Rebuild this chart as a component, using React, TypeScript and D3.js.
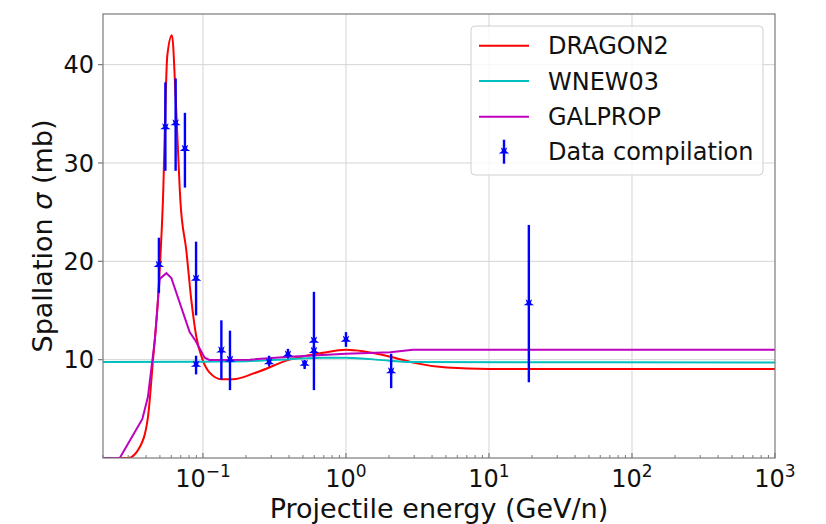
// @ts-nocheck
import { useEffect, useRef } from "react";
import * as d3 from "d3";

// model curves (energy in GeV/n, sigma in mb)
const dragonE = [0.02, 0.0299, 0.0361, 0.0412, 0.0447, 0.0484, 0.0525, 0.0563, 0.0607, 0.0644, 0.0669, 0.0695, 0.0765, 0.083, 0.0899, 0.1, 0.111, 0.135, 0.162, 0.236, 0.404, 0.69, 1.0, 2.04, 2.94, 5.06, 10, 1000];
const dragonSigma = [0, 0, 1.1, 4.1, 9.9, 16, 26.2, 40.9, 43.0, 36.7, 31.3, 26.2, 21.1, 16.0, 12.3, 9.9, 8.7, 8.0, 8.0, 8.7, 10.0, 10.7, 11.0, 10.3, 9.7, 9.2, 9.05, 9.05];

const wnewE = [0.02, 0.1, 0.2, 0.4, 0.7, 1.0, 2.0, 3.0, 1000];
const wnewSigma = [9.75, 9.8, 9.85, 10.05, 10.2, 10.2, 9.9, 9.75, 9.72];

const galpropE = [0.02, 0.0262, 0.0377, 0.0412, 0.046, 0.0498, 0.0555, 0.0601, 0.0807, 0.0889, 0.1027, 0.111, 0.212, 0.404, 1.0, 2.04, 2.94, 1000];
const galpropSigma = [0, 0, 3.97, 6.2, 11.9, 18.2, 18.8, 18.3, 12.8, 11.9, 10.2, 9.97, 10.0, 10.3, 10.6, 10.75, 11.0, 11.0];

// data compilation
const dataE = [0.0492, 0.0546, 0.0644, 0.0748, 0.0895, 0.0895, 0.1345, 0.1545, 0.29, 0.393, 0.514, 0.597, 0.597, 1.0, 2.07, 19.0];
const dataSigma = [19.6, 33.6, 34.0, 31.4, 18.2, 9.45, 10.9, 9.97, 9.7, 10.5, 9.55, 11.9, 10.85, 12.0, 8.78, 15.7];
const dataLow = [16.8, 29.2, 29.2, 27.5, 14.5, 8.5, 8.0, 6.9, 9.4, 10.2, 9.05, 6.9, 10.3, 11.3, 7.1, 7.7];
const dataHigh = [22.4, 38.2, 38.6, 35.1, 22.0, 10.4, 14.0, 12.95, 10.4, 11.1, 9.97, 16.9, 11.4, 12.8, 10.6, 23.7];

const yTicks = [10, 20, 30, 40];
const xTicks = [0.1, 1, 10, 100, 1000];
const xTickExp = ["\u22121", "0", "1", "2", "3"];

const series = [
  { name: "DRAGON2", color: "#ff0000", e: dragonE, s: dragonSigma, curve: d3.curveMonotoneX },
  { name: "WNEW03", color: "#00bfbf", e: wnewE, s: wnewSigma, curve: d3.curveMonotoneX },
  { name: "GALPROP", color: "#bf00bf", e: galpropE, s: galpropSigma, curve: d3.curveLinear },
];

const App = () => {
  const ref = useRef(null);

  useEffect(() => {
    const width = 826;
    const height = 524;
    const m = { top: 14, right: 51, bottom: 66, left: 103 };
    const font = "DejaVu Sans, sans-serif";

    d3.select(ref.current).selectAll("*").remove();
    const svg = d3
      .select(ref.current)
      .append("svg")
      .attr("width", width)
      .attr("height", height)
      .style("position", "absolute")
      .style("left", 0)
      .style("top", 0)
      .style("background", "#fff");

    const x = d3.scaleLog().domain([0.02, 1000]).range([m.left, width - m.right]);
    const y = d3.scaleLinear().domain([0, 45.15]).range([height - m.bottom, m.top]);
    const x0 = m.left, x1 = width - m.right, y0 = height - m.bottom, y1 = m.top;

    const defs = svg.append("defs");
    defs.append("clipPath").attr("id", "plotclip")
      .append("rect").attr("x", x0).attr("y", y1).attr("width", x1 - x0).attr("height", y0 - y1);

    // grid
    const grid = svg.append("g").attr("stroke", "#d4d4d4").attr("stroke-width", 1);
    xTicks.slice(0, -1).forEach((t) => {
      grid.append("line").attr("x1", x(t)).attr("x2", x(t)).attr("y1", y0).attr("y2", y1);
    });
    yTicks.forEach((t) => {
      grid.append("line").attr("x1", x0).attr("x2", x1).attr("y1", y(t)).attr("y2", y(t));
    });

    // curves
    const plot = svg.append("g").attr("clip-path", "url(#plotclip)");
    series.forEach((sr) => {
      const line = d3
        .line()
        .x((d, i) => x(sr.e[i]))
        .y((d) => y(d))
        .curve(sr.curve);
      plot.append("path")
        .datum(sr.s)
        .attr("fill", "none")
        .attr("stroke", sr.color)
        .attr("stroke-width", 2)
        .attr("d", line);
    });

    // error bars
    const star = d3.symbol().type(d3.symbolStar).size(34);
    dataE.forEach((e, i) => {
      plot.append("line")
        .attr("x1", x(e)).attr("x2", x(e))
        .attr("y1", y(dataLow[i])).attr("y2", y(dataHigh[i]))
        .attr("stroke", "#0000ff").attr("stroke-width", 2.4);
      plot.append("path")
        .attr("d", star())
        .attr("transform", `translate(${x(e)},${y(dataSigma[i])}) rotate(180)`)
        .attr("fill", "#0000ff");
    });

    // spines
    svg.append("rect")
      .attr("x", x0).attr("y", y1).attr("width", x1 - x0).attr("height", y0 - y1)
      .attr("fill", "none").attr("stroke", "#7a7a7a").attr("stroke-width", 1.2);

    // y axis ticks
    const yAxis = svg.append("g");
    yTicks.forEach((t) => {
      yAxis.append("line").attr("x1", x0 - 5).attr("x2", x0).attr("y1", y(t)).attr("y2", y(t))
        .attr("stroke", "#7a7a7a").attr("stroke-width", 1.2);
      yAxis.append("text").attr("x", x0 - 9).attr("y", y(t)).attr("dy", "0.36em")
        .attr("text-anchor", "end").attr("font-family", font).attr("font-size", 24)
        .attr("fill", "#111").text(t);
    });

    // x axis ticks (major + log minor)
    const xAxis = svg.append("g").attr("stroke", "#7a7a7a").attr("stroke-width", 1);
    for (let dec = -2; dec < 3; dec++) {
      for (let k = 2; k <= 9; k++) {
        const v = k * Math.pow(10, dec);
        if (v < 0.02 || v > 1000) continue;
        xAxis.append("line").attr("x1", x(v)).attr("x2", x(v)).attr("y1", y0).attr("y2", y0 - 3);
      }
    }
    xTicks.forEach((t, i) => {
      xAxis.append("line").attr("x1", x(t)).attr("x2", x(t)).attr("y1", y0).attr("y2", y0 - 5)
        .attr("stroke-width", 1.2);
      const tx = svg.append("text").attr("x", x(t)).attr("y", 487)
        .attr("text-anchor", "middle").attr("font-family", font).attr("font-size", 24).attr("fill", "#111");
      tx.append("tspan").text("10");
      tx.append("tspan").attr("dy", -10).attr("font-size", 17).text(xTickExp[i]);
    });

    // axis titles
    svg.append("text").attr("x", (x0 + x1) / 2).attr("y", 518)
      .attr("text-anchor", "middle").attr("font-family", font).attr("font-size", 27).attr("fill", "#111")
      .text("Projectile energy (GeV/n)");
    const yl = svg.append("text")
      .attr("transform", `translate(52,${(y0 + y1) / 2}) rotate(-90)`)
      .attr("text-anchor", "middle").attr("font-family", font).attr("font-size", 27).attr("fill", "#111");
    yl.append("tspan").text("Spallation ");
    yl.append("tspan").attr("font-style", "italic").text("\u03c3");
    yl.append("tspan").text(" (mb)");

    // legend
    const lg = svg.append("g");
    lg.append("rect").attr("x", 471).attr("y", 26).attr("width", 292).attr("height", 149).attr("rx", 4)
      .attr("fill", "#fff").attr("fill-opacity", 0.8).attr("stroke", "#d0d0d0").attr("stroke-width", 1);
    const rowY = [45.7, 81, 116.7, 151.7];
    series.forEach((sr, i) => {
      lg.append("line").attr("x1", 479).attr("x2", 529).attr("y1", rowY[i]).attr("y2", rowY[i])
        .attr("stroke", sr.color).attr("stroke-width", 2);
      lg.append("text").attr("x", 548).attr("y", rowY[i]).attr("dy", "0.36em")
        .attr("font-family", font).attr("font-size", 24).attr("fill", "#111").text(sr.name);
    });
    lg.append("line").attr("x1", 504).attr("x2", 504).attr("y1", rowY[3] - 12).attr("y2", rowY[3] + 12)
      .attr("stroke", "#0000ff").attr("stroke-width", 2.4);
    lg.append("path").attr("d", star()).attr("transform", `translate(504,${rowY[3]}) rotate(180)`)
      .attr("fill", "#0000ff");
    lg.append("text").attr("x", 548).attr("y", rowY[3]).attr("dy", "0.36em")
      .attr("font-family", font).attr("font-size", 24).attr("fill", "#111").text("Data compilation");
  }, []);

  return <div ref={ref} style={{ width: 826, height: 524 }}></div>;
};

export default App;
